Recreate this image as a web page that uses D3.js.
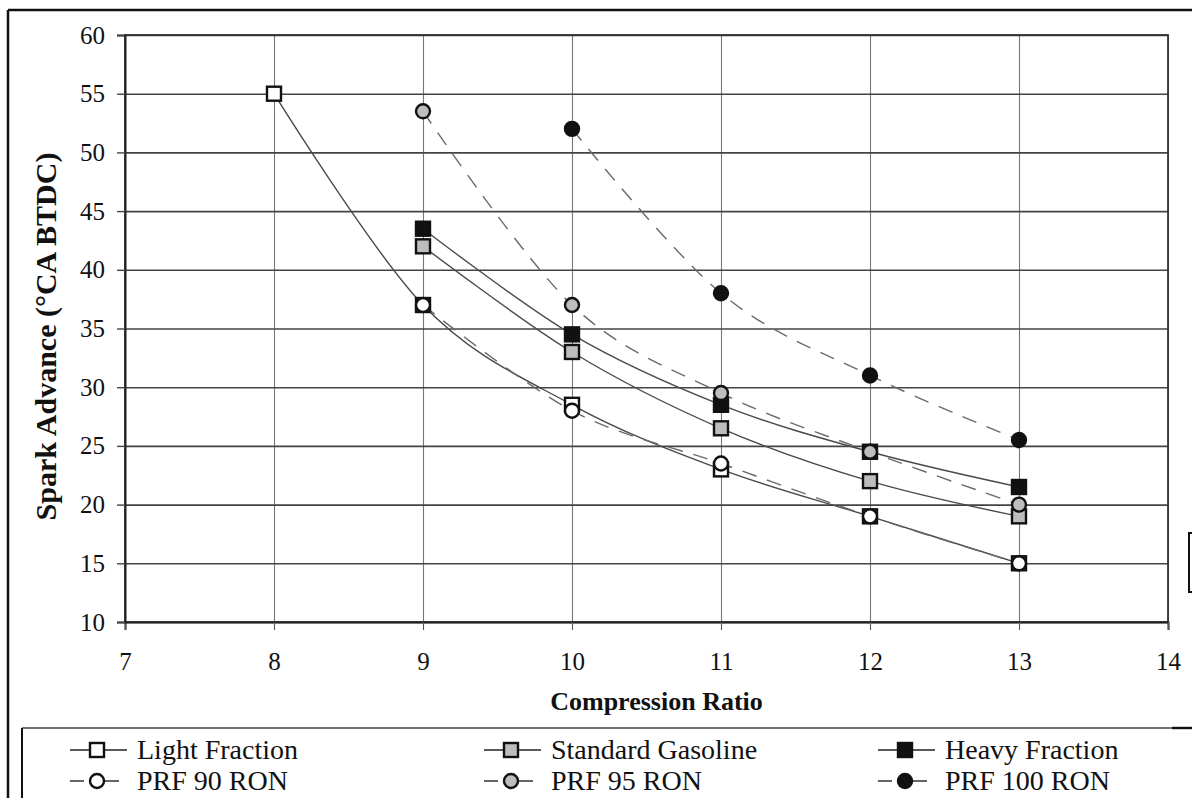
<!DOCTYPE html>
<html>
<head>
<meta charset="utf-8">
<script src="https://cdn.jsdelivr.net/npm/d3@7"></script>
<style>
  html, body { margin: 0; padding: 0; background: #fff; }
  svg { display: block; }
  text { font-family: "Liberation Serif", "Times New Roman", serif; fill: #111; }
</style>
</head>
<body>
<svg id="chart" width="1192" height="798"></svg>
<script>
// Compression ratio values (x) and spark advance (°CA BTDC) per fuel
const lightX = [8, 9, 10, 11, 12, 13];
const lightY = [55, 37, 28.5, 23, 19, 15];
const stdX = [9, 10, 11, 12, 13];
const stdY = [42, 33, 26.5, 22, 19];
const heavyX = [9, 10, 11, 12, 13];
const heavyY = [43.5, 34.5, 28.5, 24.5, 21.5];
const prf90X = [9, 10, 11, 12, 13];
const prf90Y = [37, 28, 23.5, 19, 15];
const prf95X = [9, 10, 11, 12, 13];
const prf95Y = [53.5, 37, 29.5, 24.5, 20];
const prf100X = [10, 11, 12, 13];
const prf100Y = [52, 38, 31, 25.5];

const xTicks = [7, 8, 9, 10, 11, 12, 13, 14];
const yTicks = [10, 15, 20, 25, 30, 35, 40, 45, 50, 55, 60];

const seriesNames = ["Light Fraction", "Standard Gasoline", "Heavy Fraction",
                     "PRF 90 RON", "PRF 95 RON", "PRF 100 RON"];

const series = [
  { name: seriesNames[0], xs: lightX, ys: lightY, shape: "square", fill: "#ffffff", dashed: false },
  { name: seriesNames[1], xs: stdX, ys: stdY, shape: "square", fill: "#bdbdbd", dashed: false },
  { name: seriesNames[2], xs: heavyX, ys: heavyY, shape: "square", fill: "#111111", dashed: false },
  { name: seriesNames[3], xs: prf90X, ys: prf90Y, shape: "circle", fill: "#ffffff", dashed: true },
  { name: seriesNames[4], xs: prf95X, ys: prf95Y, shape: "circle", fill: "#bdbdbd", dashed: true },
  { name: seriesNames[5], xs: prf100X, ys: prf100Y, shape: "circle", fill: "#111111", dashed: true }
];

const svg = d3.select("#chart");
const plot = { left: 125, right: 1168, top: 35, bottom: 622 };

const x = d3.scaleLinear().domain([7, 14]).range([plot.left, plot.right]);
const y = d3.scaleLinear().domain([10, 60]).range([plot.bottom, plot.top]);

// outer frame (top and left edges)
svg.append("line").attr("x1", 8).attr("x2", 1192).attr("y1", 10).attr("y2", 10)
  .attr("stroke", "#111").attr("stroke-width", 2.5);
svg.append("line").attr("x1", 8).attr("x2", 8).attr("y1", 10).attr("y2", 798)
  .attr("stroke", "#111").attr("stroke-width", 2.5);

// gridlines
svg.append("g")
  .attr("transform", `translate(0,${plot.bottom})`)
  .call(d3.axisBottom(x).tickValues(xTicks).tickSize(-(plot.bottom - plot.top)).tickFormat(""))
  .call(g => g.select(".domain").remove())
  .call(g => g.selectAll("line").attr("stroke", "#777").attr("stroke-width", 1.1));
svg.append("g")
  .attr("transform", `translate(${plot.left},0)`)
  .call(d3.axisLeft(y).tickValues(yTicks).tickSize(-(plot.right - plot.left)).tickFormat(""))
  .call(g => g.select(".domain").remove())
  .call(g => g.selectAll("line").attr("stroke", "#444").attr("stroke-width", 1.6));

// plot border
svg.append("rect")
  .attr("x", plot.left).attr("y", plot.top)
  .attr("width", plot.right - plot.left).attr("height", plot.bottom - plot.top)
  .attr("fill", "none").attr("stroke", "#333").attr("stroke-width", 1.8);

// axes with outward ticks and labels
const xAxis = svg.append("g")
  .attr("transform", `translate(0,${plot.bottom})`)
  .call(d3.axisBottom(x).tickValues(xTicks).tickSize(8).tickPadding(22).tickFormat(d3.format("d")));
xAxis.select(".domain").attr("stroke", "#222").attr("stroke-width", 2);
xAxis.selectAll("line").attr("stroke", "#555").attr("stroke-width", 1.1);
xAxis.selectAll("text").attr("font-size", 25).attr("fill", "#111")
  .style("font-family", "'Liberation Serif', serif");

const yAxis = svg.append("g")
  .attr("transform", `translate(${plot.left},0)`)
  .call(d3.axisLeft(y).tickValues(yTicks).tickSize(8).tickPadding(12).tickFormat(d3.format("d")));
yAxis.select(".domain").attr("stroke", "#222").attr("stroke-width", 2);
yAxis.selectAll("line").attr("stroke", "#444").attr("stroke-width", 1.4);
yAxis.selectAll("text").attr("font-size", 25).attr("fill", "#111")
  .style("font-family", "'Liberation Serif', serif");

// axis titles
svg.append("text")
  .attr("x", (plot.left + plot.right) / 2 + 10).attr("y", 710)
  .attr("text-anchor", "middle").attr("font-size", 26).attr("font-weight", "bold")
  .text("Compression Ratio");
svg.append("text")
  .attr("transform", `translate(56,${(plot.top + plot.bottom) / 2 + 8}) rotate(-90)`)
  .attr("text-anchor", "middle").attr("font-size", 30).attr("font-weight", "bold")
  .text("Spark Advance (°CA BTDC)");

// smoothed connecting lines
const curve = d3.curveCatmullRom.alpha(0);
const lineGen = d3.line().x(d => x(d[0])).y(d => y(d[1])).curve(curve);
const linesG = svg.append("g");
series.forEach(s => {
  const pts = s.xs.map((v, i) => [v, s.ys[i]]);
  linesG.append("path")
    .datum(pts)
    .attr("d", lineGen)
    .attr("fill", "none")
    .attr("stroke", s.dashed ? "#6a6a6a" : "#4a4a4a")
    .attr("stroke-width", 1.4)
    .attr("stroke-dasharray", s.dashed ? "15,11" : null);
});

// markers
function drawMarker(g, shape, fill, cx, cy) {
  if (shape === "square") {
    g.append("rect")
      .attr("x", cx - 7).attr("y", cy - 7).attr("width", 14).attr("height", 14)
      .attr("fill", fill).attr("stroke", "#111").attr("stroke-width", 2.4);
  } else {
    g.append("circle")
      .attr("cx", cx).attr("cy", cy).attr("r", 7)
      .attr("fill", fill).attr("stroke", "#111").attr("stroke-width", 2.4);
  }
}
const marksG = svg.append("g");
series.forEach(s => {
  s.xs.forEach((v, i) => drawMarker(marksG, s.shape, s.fill, x(v), y(s.ys[i])));
});

// legend box
svg.append("line").attr("x1", 22).attr("x2", 1192).attr("y1", 728).attr("y2", 728)
  .attr("stroke", "#444").attr("stroke-width", 1.6);
svg.append("line").attr("x1", 1172).attr("x2", 1192).attr("y1", 728).attr("y2", 728)
  .attr("stroke", "#111").attr("stroke-width", 2.4);
svg.append("line").attr("x1", 22).attr("x2", 22).attr("y1", 728).attr("y2", 798)
  .attr("stroke", "#111").attr("stroke-width", 2);

const legCols = [97, 511, 905];
const legRows = [750, 781];
const legendG = svg.append("g");
series.forEach((s, i) => {
  const cx = legCols[i % 3];
  const cy = legRows[Math.floor(i / 3)];
  if (s.dashed) {
    legendG.append("line").attr("x1", cx - 27).attr("x2", cx - 13).attr("y1", cy).attr("y2", cy)
      .attr("stroke", "#222").attr("stroke-width", 1.4);
    legendG.append("line").attr("x1", cx + 6).attr("x2", cx + 22).attr("y1", cy).attr("y2", cy)
      .attr("stroke", "#222").attr("stroke-width", 1.4);
  } else {
    legendG.append("line").attr("x1", cx - 27).attr("x2", cx + 30).attr("y1", cy).attr("y2", cy)
      .attr("stroke", "#222").attr("stroke-width", 1.4);
  }
  drawMarker(legendG, s.shape, s.fill, cx, cy);
  legendG.append("text")
    .attr("x", cx + 40).attr("y", cy + 9)
    .attr("font-size", 28)
    .text(s.name);
});

// small bracket at the right margin
svg.append("path")
  .attr("d", "M1192,533 L1189,533 L1189,592 L1192,592")
  .attr("fill", "none").attr("stroke", "#111").attr("stroke-width", 2);
</script>
</body>
</html>
